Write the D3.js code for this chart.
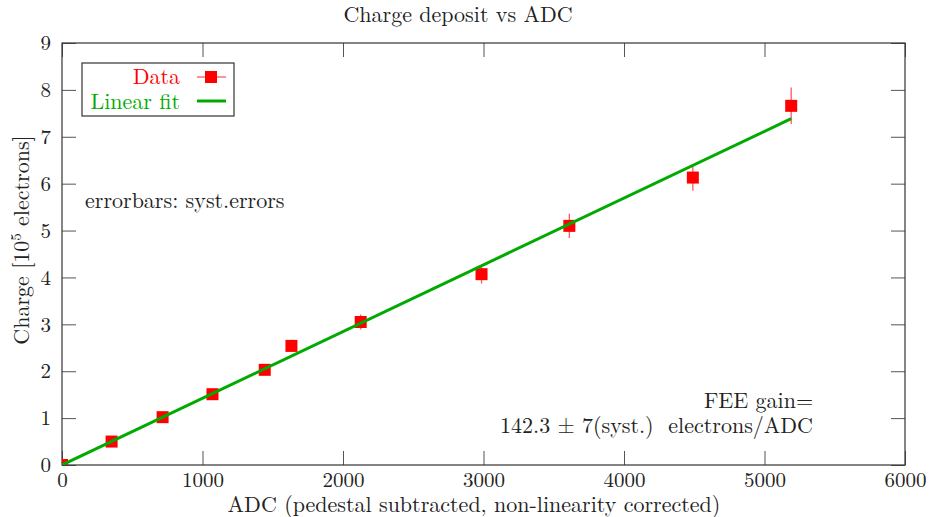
<!DOCTYPE html>
<html>
<head>
<meta charset="utf-8">
<script src="https://cdn.jsdelivr.net/npm/d3@7"></script>
<style>
  body { margin: 0; background: #fff; }
  svg text { font-family: "Latin Modern Roman", "CMU Serif", "Liberation Serif", serif; }
</style>
</head>
<body>
<div id="chart"></div>
<script>
'use strict';

// measured points (ADC counts, charge in 1e5 electrons, syst. error)
var adc = [0, 353, 716, 1071, 1443, 1633, 2126, 2986, 3611, 4490, 5190];
var charge = [0, 0.50, 1.02, 1.51, 2.03, 2.54, 3.05, 4.07, 5.10, 6.13, 7.66];
var systErr = [0, 0.03, 0.05, 0.08, 0.10, 0.13, 0.16, 0.20, 0.26, 0.28, 0.39];

// linear fit: gain 142.3 electrons / ADC, drawn over the data range
var fitAdc = [0, 5190];
var fitCharge = [0, 7.385];

var xTicks = [0, 1000, 2000, 3000, 4000, 5000, 6000];
var yTicks = [0, 1, 2, 3, 4, 5, 6, 7, 8, 9];

var W = 929, H = 517;
var margin = {top: 43, right: 24, bottom: 52, left: 62};
var fs = 21;   // tick labels
var ts = 22;   // text labels

var svg = d3.select('#chart').append('svg')
  .attr('width', W)
  .attr('height', H);

var w = W - margin.left - margin.right;
var h = H - margin.top - margin.bottom;

var x = d3.scaleLinear().domain([0, 6000]).range([0, w]);
var y = d3.scaleLinear().domain([0, 9]).range([h, 0]);

var g = svg.append('g').attr('transform', 'translate(' + margin.left + ',' + margin.top + ')');

svg.append('defs').append('clipPath').attr('id', 'plotclip')
  .append('rect').attr('x', 0).attr('y', 0).attr('width', w).attr('height', h);

function styleAxis(sel) {
  sel.select('.domain').remove();
  sel.selectAll('.tick line').attr('stroke', '#555').attr('stroke-width', 1);
  sel.selectAll('.tick text')
    .attr('fill', '#222')
    .style('font-size', fs + 'px');
}

g.append('g')
  .attr('transform', 'translate(0,' + h + ')')
  .call(d3.axisBottom(x).tickValues(xTicks).tickSize(-14).tickPadding(7).tickFormat(d3.format('d')))
  .call(styleAxis);

g.append('g')
  .call(d3.axisTop(x).tickValues(xTicks).tickSize(-14).tickFormat(''))
  .call(styleAxis);

g.append('g')
  .call(d3.axisLeft(y).tickValues(yTicks).tickSize(-14).tickPadding(11).tickFormat(d3.format('d')))
  .call(styleAxis);

g.append('g')
  .attr('transform', 'translate(' + w + ',0)')
  .call(d3.axisRight(y).tickValues(yTicks).tickSize(-14).tickFormat(''))
  .call(styleAxis);

// frame
g.append('rect')
  .attr('x', 0).attr('y', 0)
  .attr('width', w).attr('height', h)
  .attr('fill', 'none')
  .attr('stroke', '#333')
  .attr('stroke-width', 1.2);

var data = adc.map(function (a, i) {
  return {x: a, y: charge[i], e: systErr[i]};
});

var plot = g.append('g').attr('clip-path', 'url(#plotclip)');

// error bars
plot.selectAll('line.err')
  .data(data)
  .enter().append('line')
  .attr('class', 'err')
  .attr('x1', function (d) { return x(d.x); })
  .attr('x2', function (d) { return x(d.x); })
  .attr('y1', function (d) { return y(d.y - d.e); })
  .attr('y2', function (d) { return y(d.y + d.e); })
  .attr('stroke', '#ff5a5a')
  .attr('stroke-width', 1.3);

// markers
var ms = 12;
plot.selectAll('rect.pt')
  .data(data)
  .enter().append('rect')
  .attr('class', 'pt')
  .attr('x', function (d) { return x(d.x) - ms / 2; })
  .attr('y', function (d) { return y(d.y) - ms / 2; })
  .attr('width', ms)
  .attr('height', ms)
  .attr('fill', '#ff0000');

// fit line
var fit = fitAdc.map(function (a, i) { return [a, fitCharge[i]]; });
plot.append('path')
  .datum(fit)
  .attr('d', d3.line().x(function (d) { return x(d[0]); }).y(function (d) { return y(d[1]); }))
  .attr('fill', 'none')
  .attr('stroke', '#00aa00')
  .attr('stroke-width', 3);

// legend
var leg = svg.append('g');
leg.append('rect')
  .attr('x', 82).attr('y', 63)
  .attr('width', 152).attr('height', 53)
  .attr('fill', '#fff')
  .attr('stroke', '#333')
  .attr('stroke-width', 1.2);

leg.append('text')
  .attr('x', 180).attr('y', 84)
  .attr('text-anchor', 'end')
  .attr('fill', '#ff0000')
  .style('font-size', ts + 'px')
  .text('Data');
leg.append('line')
  .attr('x1', 197).attr('x2', 226)
  .attr('y1', 77).attr('y2', 77)
  .attr('stroke', '#ff5a5a').attr('stroke-width', 1.3);
leg.append('rect')
  .attr('x', 211 - ms / 2).attr('y', 77 - ms / 2)
  .attr('width', ms).attr('height', ms)
  .attr('fill', '#ff0000');

leg.append('text')
  .attr('x', 180).attr('y', 109)
  .attr('text-anchor', 'end')
  .attr('fill', '#00aa00')
  .style('font-size', ts + 'px')
  .text('Linear fit');
leg.append('line')
  .attr('x1', 197).attr('x2', 226)
  .attr('y1', 101).attr('y2', 101)
  .attr('stroke', '#00aa00').attr('stroke-width', 3);

// titles and notes
svg.append('text')
  .attr('x', 458).attr('y', 22)
  .attr('text-anchor', 'middle')
  .attr('fill', '#222')
  .style('font-size', ts + 'px')
  .text('Charge deposit vs ADC');

svg.append('text')
  .attr('x', 474).attr('y', 512)
  .attr('text-anchor', 'middle')
  .attr('fill', '#222')
  .style('font-size', ts + 'px')
  .text('ADC (pedestal subtracted, non-linearity corrected)');

var ylab = svg.append('text')
  .attr('transform', 'translate(29,240) rotate(-90)')
  .attr('text-anchor', 'middle')
  .attr('fill', '#222')
  .style('font-size', ts + 'px');
ylab.append('tspan').text('Charge [10');
ylab.append('tspan').attr('dy', -8).style('font-size', '15px').text('5');
ylab.append('tspan').attr('dy', 8).text(' electrons]');

svg.append('text')
  .attr('x', 85).attr('y', 208)
  .attr('fill', '#222')
  .style('font-size', ts + 'px')
  .text('errorbars: syst.errors');

svg.append('text')
  .attr('x', 813).attr('y', 408)
  .attr('text-anchor', 'end')
  .attr('fill', '#222')
  .style('font-size', ts + 'px')
  .text('FEE gain=');

svg.append('text')
  .attr('x', 813).attr('y', 433)
  .attr('text-anchor', 'end')
  .attr('fill', '#222')
  .style('font-size', ts + 'px')
  .style('white-space', 'pre')
  .text('142.3 \u00b1 7(syst.)  electrons/ADC');
</script>
</body>
</html>
